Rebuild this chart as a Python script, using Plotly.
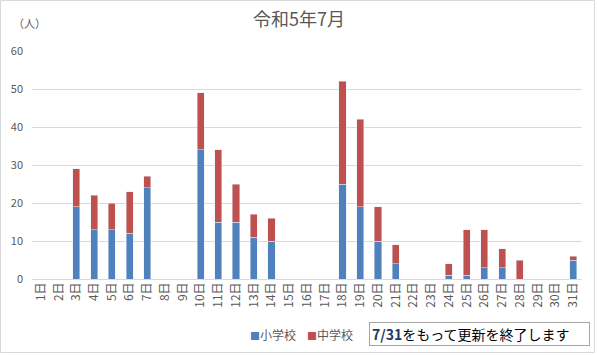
import plotly.graph_objects as go

days = [f"{d}日" for d in range(1, 32)]
elementary = [0, 0, 19, 13, 13, 12, 24, 0, 0, 34, 15, 15, 11, 10, 0, 0, 0, 25, 19, 10, 4, 0, 0, 1, 1, 3, 3, 0, 0, 0, 5]
junior = [0, 0, 10, 9, 7, 11, 3, 0, 0, 15, 19, 10, 6, 6, 0, 0, 0, 27, 23, 9, 5, 0, 0, 3, 12, 10, 5, 5, 0, 0, 1]
y_ticks = [0, 10, 20, 30, 40, 50, 60]
series_names = ["小学校", "中学校"]
series_colors = ["#4F81BD", "#C0504D"]

W, H = 597, 355
L, R, T, B = 32, 15, 51, 76
PW, PH = W - L - R, H - T - B

def px(x):
    return (x - L) / PW

def py(y):
    return (H - B - y) / PH

FONT = "Noto Sans CJK JP"
GRAY = "#595959"

fig = go.Figure()
for name, vals, col in zip(series_names, [elementary, junior], series_colors):
    fig.add_trace(go.Bar(x=days, y=vals, name=name, marker_color=col, showlegend=False))

legend_ann = []
for i, (name, col) in enumerate(zip(series_names, series_colors)):
    legend_ann.append(dict(
        text=f"<span style='color:{col};font-size:10px'>■</span>{name}",
        xref="paper", yref="paper", x=px(248 + 57 * i), y=py(334),
        xanchor="left", yanchor="middle", showarrow=False,
        font=dict(size=12, color=GRAY)))

fig.update_layout(
    width=W, height=H,
    margin=dict(l=L, r=R, t=T, b=B, autoexpand=False),
    barmode="stack", bargap=0.6,
    plot_bgcolor="white", paper_bgcolor="white",
    font=dict(family=FONT, color=GRAY, size=11),
    title=dict(text="令和5年7月", x=299 / W, xanchor="center", y=1 - 20 / H, yanchor="middle",
               font=dict(size=18, color=GRAY, family=FONT)),
    xaxis=dict(tickangle=-90, showgrid=False, showline=False, ticks="", automargin=False,
               tickfont=dict(size=12, color=GRAY)),
    yaxis=dict(range=[0, 60], tickvals=y_ticks, showgrid=True, gridcolor="#d9d9d9", gridwidth=1,
               zeroline=True, zerolinecolor="#d9d9d9", zerolinewidth=1, automargin=False,
               tickfont=dict(size=11, color=GRAY), ticklabelstandoff=8),
    annotations=[
        dict(text="（人）", xref="paper", yref="paper", x=px(29), y=py(23),
             xanchor="center", yanchor="middle", showarrow=False,
             font=dict(size=11, color=GRAY)),
        dict(text="<span style='color:#1F3864'><b>7/31</b></span>をもって更新を終了します",
             xref="paper", yref="paper", x=px(479.5), y=py(334),
             xanchor="center", yanchor="middle", showarrow=False,
             width=215, height=18, align="left", bordercolor="#a6a6a6", borderwidth=1,
             borderpad=2, bgcolor="white", font=dict(size=14, color="#000000")),
    ] + legend_ann,
    shapes=[
        dict(type="rect", xref="paper", yref="paper",
             x0=px(0.5), x1=px(594.5), y0=py(0.5), y1=py(352.5),
             line=dict(color="#d9d9d9", width=1), fillcolor="rgba(0,0,0,0)", layer="below"),
    ],
)

fig.write_html("out.html", config={"displayModeBar": False},
               post_script="document.body.style.margin='0px';")
